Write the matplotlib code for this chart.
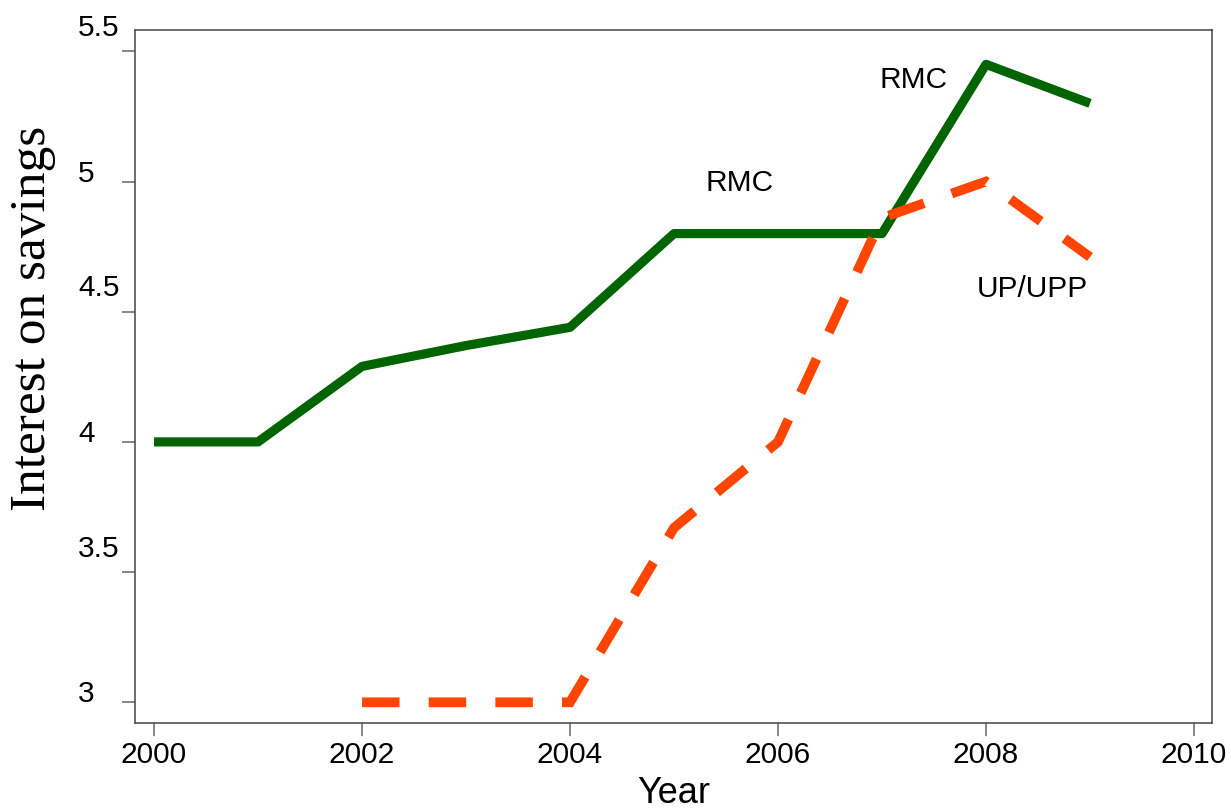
import matplotlib
matplotlib.use("Agg")
import matplotlib.pyplot as plt
import matplotlib.transforms as mtransforms

# Data series
years_rmc = [2000, 2001, 2002, 2003, 2004, 2005, 2006, 2007, 2008, 2009]
rmc = [4.0, 4.0, 4.29, 4.37, 4.44, 4.80, 4.80, 4.80, 5.45, 5.30]

years_up = [2002, 2003, 2004, 2005, 2006, 2007, 2008, 2009]
up_upp = [3.0, 3.0, 3.0, 3.67, 4.0, 4.86, 5.0, 4.71]

x_ticks = [2000, 2002, 2004, 2006, 2008, 2010]
y_ticks = [3.0, 3.5, 4.0, 4.5, 5.0, 5.5]
y_tick_labels = ["3", "3.5", "4", "4.5", "5", "5.5"]

# Series labels placed inside the plot
series_labels = [
    ("RMC", 2005.63, 4.963),
    ("RMC", 2007.30, 5.358),
    ("UP/UPP", 2008.45, 4.557),
]

plt.rcParams["lines.scale_dashes"] = False
sans = ["Liberation Sans", "DejaVu Sans"]
serif = ["Liberation Serif", "DejaVu Serif"]

fig = plt.figure(figsize=(12.31, 8.09), dpi=100)
ax = fig.add_axes([135 / 1231, 1 - 723 / 809, (1212 - 135) / 1231, (723 - 30) / 809])

ax.plot(years_rmc, rmc, color="#006400", lw=6.6,
        solid_capstyle="butt", solid_joinstyle="round")
ax.plot(years_up, up_upp, color="#FF4500", lw=7.0,
        dashes=(27, 21), dash_capstyle="butt", dash_joinstyle="miter")

ax.set_xlim(1999.817, 2010.173)
ax.set_ylim(2.9205, 5.5818)

ax.set_xticks(x_ticks)
ax.set_xticklabels([str(v) for v in x_ticks], fontsize=21.5, family=sans)
ax.set_yticks(y_ticks)
ax.set_yticklabels([])
ax.tick_params(axis="both", direction="out", length=9.4, width=1.1,
               color="#666666")
ax.tick_params(axis="x", pad=3.5)

for sp in ax.spines.values():
    sp.set_color("#444444")
    sp.set_linewidth(1.1)

# Y tick labels, left-aligned in the margin
blend = mtransforms.blended_transform_factory(ax.transAxes, ax.transData)
for val, lab in zip(y_ticks, y_tick_labels):
    shift = 0 if float(val).is_integer() else 11
    tr = blend + mtransforms.ScaledTranslation(0, shift / 72, fig.dpi_scale_trans)
    ax.text((78 - 135) / 1077, val, lab, transform=tr, ha="left",
            va="baseline", fontsize=21.5, family=sans, clip_on=False)

for text, x, y in series_labels:
    ax.text(x, y, text, ha="center", va="baseline", fontsize=21.5, family=sans)

fig.text(673.5 / 1231, (809 - 803) / 809, "Year", ha="center",
         va="baseline", fontsize=26, family=sans)
fig.text(33 / 1231, 1 - 318.5 / 809, "Interest on savings", rotation=90,
         ha="center", va="center", fontsize=37, family=serif)

fig.savefig("out.png", dpi=100)
